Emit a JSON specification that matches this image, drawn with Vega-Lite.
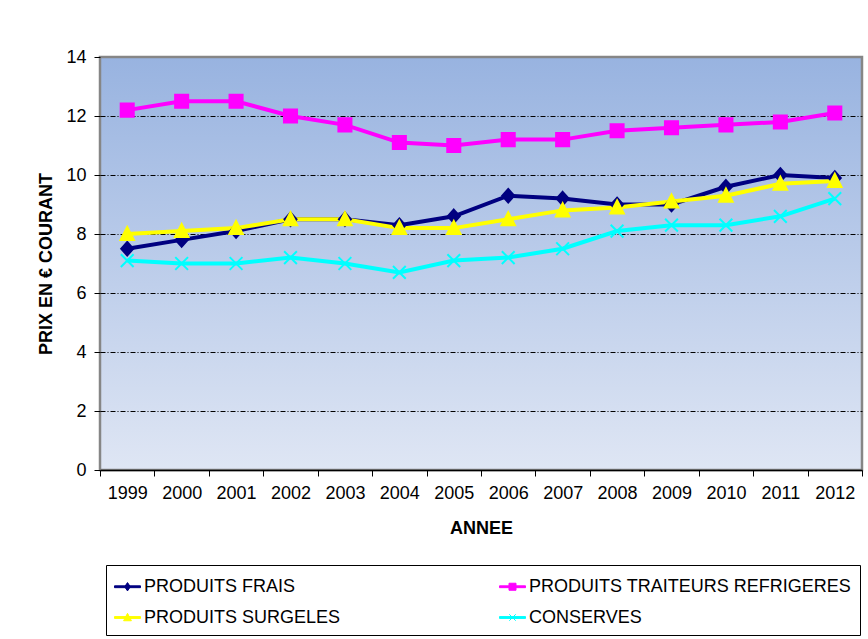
{
  "$schema": "https://vega.github.io/schema/vega-lite/v6.json",
  "width": 868,
  "height": 639,
  "autosize": {"type": "fit", "contains": "padding"},
  "padding": {"left": 37, "right": 5, "top": 48, "bottom": 102},
  "background": "white",
  "config": {
    "font": "Liberation Sans",
    "view": {
      "fill": {"gradient": "linear", "x1": 0, "y1": 0, "x2": 0, "y2": 1,
        "stops": [{"offset": 0, "color": "#98B3E0"}, {"offset": 1, "color": "#DFE6F4"}]},
      "stroke": "#868686",
      "strokeWidth": 2.5
    }
  },
  "data": {"values": [
    {"annee": 1999, "serie": "PRODUITS FRAIS", "prix": 7.5},
    {"annee": 2000, "serie": "PRODUITS FRAIS", "prix": 7.8},
    {"annee": 2001, "serie": "PRODUITS FRAIS", "prix": 8.1},
    {"annee": 2002, "serie": "PRODUITS FRAIS", "prix": 8.5},
    {"annee": 2003, "serie": "PRODUITS FRAIS", "prix": 8.5},
    {"annee": 2004, "serie": "PRODUITS FRAIS", "prix": 8.3},
    {"annee": 2005, "serie": "PRODUITS FRAIS", "prix": 8.6},
    {"annee": 2006, "serie": "PRODUITS FRAIS", "prix": 9.3},
    {"annee": 2007, "serie": "PRODUITS FRAIS", "prix": 9.2},
    {"annee": 2008, "serie": "PRODUITS FRAIS", "prix": 9.0},
    {"annee": 2009, "serie": "PRODUITS FRAIS", "prix": 9.0},
    {"annee": 2010, "serie": "PRODUITS FRAIS", "prix": 9.6},
    {"annee": 2011, "serie": "PRODUITS FRAIS", "prix": 10.0},
    {"annee": 2012, "serie": "PRODUITS FRAIS", "prix": 9.9},
    {"annee": 1999, "serie": "PRODUITS TRAITEURS REFRIGERES", "prix": 12.2},
    {"annee": 2000, "serie": "PRODUITS TRAITEURS REFRIGERES", "prix": 12.5},
    {"annee": 2001, "serie": "PRODUITS TRAITEURS REFRIGERES", "prix": 12.5},
    {"annee": 2002, "serie": "PRODUITS TRAITEURS REFRIGERES", "prix": 12.0},
    {"annee": 2003, "serie": "PRODUITS TRAITEURS REFRIGERES", "prix": 11.7},
    {"annee": 2004, "serie": "PRODUITS TRAITEURS REFRIGERES", "prix": 11.1},
    {"annee": 2005, "serie": "PRODUITS TRAITEURS REFRIGERES", "prix": 11.0},
    {"annee": 2006, "serie": "PRODUITS TRAITEURS REFRIGERES", "prix": 11.2},
    {"annee": 2007, "serie": "PRODUITS TRAITEURS REFRIGERES", "prix": 11.2},
    {"annee": 2008, "serie": "PRODUITS TRAITEURS REFRIGERES", "prix": 11.5},
    {"annee": 2009, "serie": "PRODUITS TRAITEURS REFRIGERES", "prix": 11.6},
    {"annee": 2010, "serie": "PRODUITS TRAITEURS REFRIGERES", "prix": 11.7},
    {"annee": 2011, "serie": "PRODUITS TRAITEURS REFRIGERES", "prix": 11.8},
    {"annee": 2012, "serie": "PRODUITS TRAITEURS REFRIGERES", "prix": 12.1},
    {"annee": 1999, "serie": "PRODUITS SURGELES", "prix": 8.0},
    {"annee": 2000, "serie": "PRODUITS SURGELES", "prix": 8.1},
    {"annee": 2001, "serie": "PRODUITS SURGELES", "prix": 8.2},
    {"annee": 2002, "serie": "PRODUITS SURGELES", "prix": 8.5},
    {"annee": 2003, "serie": "PRODUITS SURGELES", "prix": 8.5},
    {"annee": 2004, "serie": "PRODUITS SURGELES", "prix": 8.2},
    {"annee": 2005, "serie": "PRODUITS SURGELES", "prix": 8.2},
    {"annee": 2006, "serie": "PRODUITS SURGELES", "prix": 8.5},
    {"annee": 2007, "serie": "PRODUITS SURGELES", "prix": 8.8},
    {"annee": 2008, "serie": "PRODUITS SURGELES", "prix": 8.9},
    {"annee": 2009, "serie": "PRODUITS SURGELES", "prix": 9.1},
    {"annee": 2010, "serie": "PRODUITS SURGELES", "prix": 9.3},
    {"annee": 2011, "serie": "PRODUITS SURGELES", "prix": 9.7},
    {"annee": 2012, "serie": "PRODUITS SURGELES", "prix": 9.8},
    {"annee": 1999, "serie": "CONSERVES", "prix": 7.1},
    {"annee": 2000, "serie": "CONSERVES", "prix": 7.0},
    {"annee": 2001, "serie": "CONSERVES", "prix": 7.0},
    {"annee": 2002, "serie": "CONSERVES", "prix": 7.2},
    {"annee": 2003, "serie": "CONSERVES", "prix": 7.0},
    {"annee": 2004, "serie": "CONSERVES", "prix": 6.7},
    {"annee": 2005, "serie": "CONSERVES", "prix": 7.1},
    {"annee": 2006, "serie": "CONSERVES", "prix": 7.2},
    {"annee": 2007, "serie": "CONSERVES", "prix": 7.5},
    {"annee": 2008, "serie": "CONSERVES", "prix": 8.1},
    {"annee": 2009, "serie": "CONSERVES", "prix": 8.3},
    {"annee": 2010, "serie": "CONSERVES", "prix": 8.3},
    {"annee": 2011, "serie": "CONSERVES", "prix": 8.6},
    {"annee": 2012, "serie": "CONSERVES", "prix": 9.2}
  ]},
  "encoding": {
    "x": {
      "field": "annee", "type": "ordinal",
      "scale": {"type": "band", "paddingInner": 0, "paddingOuter": 0},
      "axis": {
        "title": "ANNEE", "titleFontWeight": "bold", "titleFontSize": 18, "titlePadding": 17, "titleColor": "black",
        "labelFontSize": 18, "labelAngle": 0, "labelPadding": 8, "labelColor": "black",
        "tickBand": "extent", "tickSize": 6, "tickColor": "black",
        "domainColor": "black", "domainWidth": 1.5, "grid": false
      }
    },
    "y": {
      "field": "prix", "type": "quantitative",
      "scale": {"domain": [0, 14]},
      "axis": {
        "title": "PRIX EN € COURANT", "titleFontSize": 18, "titleFontWeight": "bold", "titlePadding": 10, "titleColor": "black",
        "values": [0, 2, 4, 6, 8, 10, 12, 14],
        "labelFontSize": 18, "labelPadding": 8, "labelColor": "black",
        "tickSize": 6, "tickColor": "black", "domain": false,
        "grid": true, "gridColor": "black", "gridDash": [5, 2, 1, 2], "gridWidth": 1,
        "gridOpacity": {"condition": {"test": "datum.value == 0 || datum.value == 14", "value": 0}, "value": 1}
      }
    }
  },
  "layer": [
    {
      "mark": {"type": "line", "strokeWidth": 4},
      "encoding": {
        "color": {
          "field": "serie", "type": "nominal",
          "scale": {
            "domain": ["PRODUITS FRAIS", "PRODUITS SURGELES", "PRODUITS TRAITEURS REFRIGERES", "CONSERVES"],
            "range": ["#000080", "#FFFF00", "#FF00FF", "#00FFFF"]
          },
          "legend": {
            "orient": "none", "legendX": 6, "legendY": 508, "columns": 2, "title": null,
            "strokeColor": "black", "fillColor": "white", "padding": 8,
            "columnPadding": 156, "rowPadding": 8, "symbolSize": 676,
            "labelFontSize": 18, "labelOffset": 3, "labelLimit": 500, "labelColor": "black",
            "encode": {
              "symbols": {
                "update": {
                  "shape": {"signal": "datum.value === 'PRODUITS FRAIS' ? 'M-1,-0.07L1,-0.07L1,0.07L-1,0.07Z M0,-0.32L0.22,0L0,0.32L-0.22,0Z' : datum.value === 'PRODUITS TRAITEURS REFRIGERES' ? 'M-1,-0.07L1,-0.07L1,0.07L-1,0.07Z M-0.27,-0.27L0.27,-0.27L0.27,0.27L-0.27,0.27Z' : datum.value === 'PRODUITS SURGELES' ? 'M-1,-0.07L1,-0.07L1,0.07L-1,0.07Z M0,-0.32L0.3,0.25L-0.3,0.25Z' : 'M-1,-0.07L1,-0.07L1,0.07L-1,0.07Z M-0.25,-0.25L0.25,0.25 M-0.25,0.25L0.25,-0.25'"},
                  "fill": {"scale": "color", "field": "value"},
                  "stroke": {"scale": "color", "field": "value"},
                  "strokeWidth": {"value": 1},
                  "opacity": {"value": 1}
                }
              }
            }
          }
        }
      }
    },
    {
      "transform": [{"filter": "datum.serie === 'PRODUITS FRAIS'"}],
      "mark": {"type": "point", "filled": true, "size": 225, "strokeWidth": 2, "opacity": 1,
        "shape": "M0,-0.9L0.8,0L0,0.9L-0.8,0Z", "fill": "#000080", "stroke": "#000080"}
    },
    {
      "transform": [{"filter": "datum.serie === 'PRODUITS TRAITEURS REFRIGERES'"}],
      "mark": {"type": "point", "filled": true, "size": 225, "strokeWidth": 2, "opacity": 1,
        "shape": "M-0.87,-0.87L0.87,-0.87L0.87,0.87L-0.87,0.87Z", "fill": "#FF00FF", "stroke": "#FF00FF"}
    },
    {
      "transform": [{"filter": "datum.serie === 'PRODUITS SURGELES'"}],
      "mark": {"type": "point", "filled": true, "size": 225, "strokeWidth": 2, "opacity": 1,
        "shape": "M0,-0.95L0.9,0.8L-0.9,0.8Z", "fill": "#FFFF00", "stroke": "#FFFF00"}
    },
    {
      "transform": [{"filter": "datum.serie === 'CONSERVES'"}],
      "mark": {"type": "point", "filled": false, "size": 225, "strokeWidth": 2, "opacity": 1,
        "shape": "M-0.85,-0.85L0.85,0.85M-0.85,0.85L0.85,-0.85", "stroke": "#00FFFF"}
    }
  ]
}
